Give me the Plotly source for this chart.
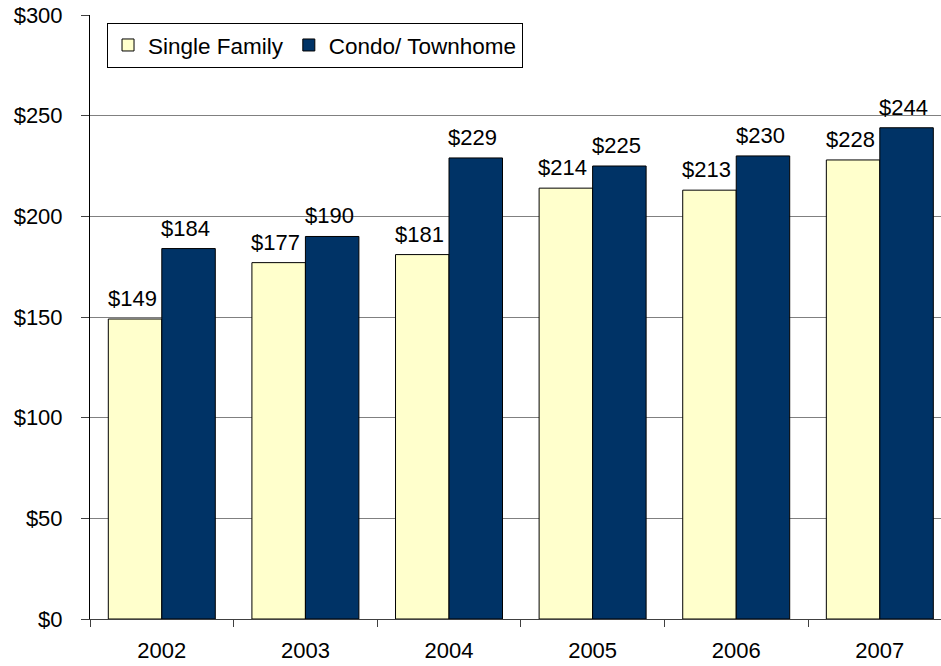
import plotly.graph_objects as go

years = ["2002", "2003", "2004", "2005", "2006", "2007"]
single_family = [149, 177, 181, 214, 213, 228]
condo_townhome = [184, 190, 229, 225, 230, 244]

font = "Liberation Sans, Arial, sans-serif"
fsize = 22
bar_half_px = 26.8  # half of one bar's width, for centring value labels

fig = go.Figure()
fig.add_trace(go.Bar(
    x=years, y=single_family, name="Single Family",
    marker=dict(color="#FFFFCC", line=dict(color="black", width=1)),
))
fig.add_trace(go.Bar(
    x=years, y=condo_townhome, name="Condo/ Townhome",
    marker=dict(color="#003366", line=dict(color="black", width=1)),
))

for series, shift in ((single_family, -bar_half_px), (condo_townhome, bar_half_px)):
    for i, v in enumerate(series):
        fig.add_annotation(
            x=i, y=v, xref="x", yref="y", text=f"${v}", showarrow=False,
            yanchor="bottom", xanchor="center", xshift=shift - 3, yshift=6,
            font=dict(size=fsize, color="black", family=font),
        )

fig.update_layout(
    width=941, height=666,
    margin=dict(l=90, r=0, t=15, b=47, autoexpand=False),
    paper_bgcolor="white", plot_bgcolor="white",
    barmode="group", bargap=0.255, bargroupgap=0,
    font=dict(family=font, size=fsize, color="black"),
    showlegend=True,
    legend=dict(
        orientation="h", x=0.02, y=0.987, xanchor="left", yanchor="top",
        bordercolor="black", borderwidth=1, bgcolor="white",
        font=dict(size=22.5, family=font), itemwidth=30,
        tracegroupgap=0,
    ),
)
fig.update_xaxes(
    type="category", range=[-0.5, 5.426],
    showline=True, linecolor="#404040", linewidth=1,
    ticks="outside", tickson="boundaries", ticklen=7, tickcolor="#404040",
    showgrid=False, tickfont=dict(size=fsize), automargin=False,
    ticklabelstandoff=12,
)
fig.update_yaxes(
    range=[0, 300], dtick=50, tickprefix="$",
    showline=True, linecolor="black", linewidth=1,
    ticks="outside", ticklen=8, tickcolor="#404040",
    showgrid=True, gridcolor="#808080", gridwidth=1,
    tickfont=dict(size=fsize), zeroline=False, automargin=False,
    ticklabelstandoff=14,
)

fig.write_html(
    "out.html",
    config={"displayModeBar": False},
    post_script="document.body.style.margin='0';document.body.style.padding='0';",
)
